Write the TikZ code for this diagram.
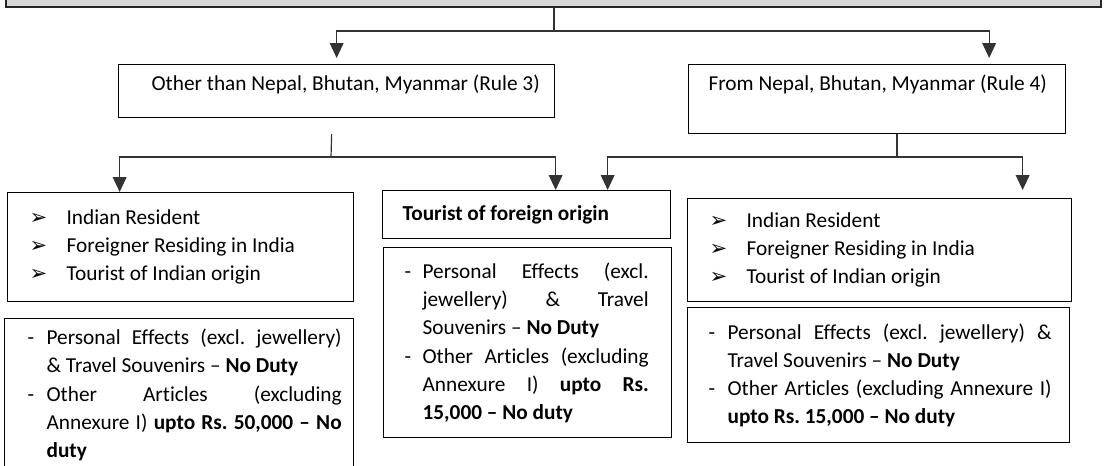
\documentclass[tikz,border=0pt]{standalone}
\usepackage{fontspec}
\setmainfont{Carlito}[Ligatures={TeX,NoCommon}]
\newfontfamily\symfont{DejaVu Sans}
\usetikzlibrary{arrows.meta}
\definecolor{headfill}{HTML}{D9D9D9}
\definecolor{linkgray}{HTML}{333333}
\newcommand{\boxfont}{\fontsize{15.15pt}{20.05pt}\selectfont\frenchspacing\hyphenpenalty=10000\tolerance=10000}
\newlength{\bulw}\setlength{\bulw}{0.925cm}
\newcommand{\pick}{\makebox[\bulw][l]{\symfont\fontsize{15pt}{15pt}\selectfont ➢}}
% dash list: #1 dash offset, #2 text offset, #3 right margin
\newenvironment{dutylist}[3]{%
  \vspace*{-0.3cm}%
  \begin{list}{-}{\setlength{\leftmargin}{#2}\setlength{\labelwidth}{\dimexpr#2-#1\relax}%
    \setlength{\labelsep}{0pt}\setlength{\rightmargin}{#3}%
    \setlength{\itemsep}{0pt}\setlength{\parsep}{0pt}\setlength{\topsep}{0pt}\setlength{\partopsep}{0pt}%
    \def\makelabel##1{##1\hfil}}}%
  {\end{list}}
\tikzset{
  headbox/.style={draw=black!85, line width=1.3pt, fill=headfill, anchor=north west, inner sep=0pt},
  rulebox/.style={draw=black, line width=0.85pt, anchor=north west, inner ysep=0pt, font=\boxfont, align=flush left},
  listbox/.style={draw=black, line width=0.85pt, anchor=north west, inner xsep=0.55cm, inner ysep=0pt, font=\boxfont, align=flush left},
  dutybox/.style={draw=black, line width=0.85pt, anchor=north west, inner sep=0pt, font=\boxfont, align=justify},
  link/.style={draw=linkgray, line width=0.85pt},
  arrow/.style={link, -{Triangle[length=0.37cm, width=0.34cm]}},
}

\begin{document}
\begin{tikzpicture}[x=0.025cm, y=-0.025cm]
\useasboundingbox (0,0) rectangle (1113,466);
\clip (0,0) rectangle (1113,466);

% head of the chart, only its lower edge shows
\node[headbox, minimum width=27.375cm, minimum height=1.15cm] (head) at (5,-40) {};

% rule 3 / rule 4
\node[rulebox, text width=10.7cm, inner xsep=0.1cm, text height=0.65cm, text depth=0.675cm] (rule3) at (118,64)
  {\hspace*{0.725cm}Other than Nepal, Bhutan, Myanmar (Rule 3)};
\node[rulebox, text width=9.225cm, inner xsep=0.1cm, text height=0.65cm, text depth=1.075cm] (rule4) at (688,64)
  {\hspace*{0.4cm}From Nepal, Bhutan, Myanmar (Rule 4)};

% who travels
\node[listbox, text width=7.55cm, minimum height=2.725cm] (resC) at (7,192)
  {\pick Indian Resident\\\pick Foreigner Residing in India\\\pick Tourist of Indian origin};
\node[rulebox, font=\boxfont\bfseries, text width=6.2cm, inner xsep=0.5cm, minimum height=1.2cm] (tourist) at (382,190)
  {Tourist of foreign origin};
\node[listbox, text width=8.5cm, minimum height=2.575cm] (resE) at (687,198)
  {\pick Indian Resident\\\pick Foreigner Residing in India\\\pick Tourist of Indian origin};

% allowances
\node[dutybox, text width=8.725cm, minimum height=3.8cm] (dutyF) at (4,318) {%
  \begin{dutylist}{0.575cm}{1.05cm}{0.3cm}
  \item Personal Effects (excl. jewellery)\linebreak \& Travel Souvenirs – \textbf{No Duty}
  \item Other Articles (excluding\linebreak Annexure I) \textbf{upto Rs. 50,000 – No}\linebreak \textbf{duty}
  \end{dutylist}};
\node[dutybox, text width=7.2cm, minimum height=4.75cm] (dutyG) at (383,247) {%
  \begin{dutylist}{0.525cm}{0.975cm}{0.575cm}
  \item Personal Effects (excl.\linebreak jewellery) \& Travel\linebreak Souvenirs – \textbf{No Duty}
  \item Other Articles (excluding\linebreak Annexure I) \textbf{upto Rs.}\linebreak \textbf{15,000 – No duty}
  \end{dutylist}};
\node[dutybox, text width=9.55cm, minimum height=3.375cm] (dutyH) at (687,307) {%
  \begin{dutylist}{0.525cm}{1.0cm}{0.45cm}
  \item Personal Effects (excl. jewellery) \&\linebreak Travel Souvenirs – \textbf{No Duty}
  \item Other Articles (excluding Annexure I)\linebreak \textbf{upto Rs. 15,000 – No duty}
  \end{dutylist}};

% connectors
\coordinate (j0) at (554,31);
\coordinate (jA) at (331,157);
\coordinate (jB) at (897,157);
\draw[link] (head.south -| j0) -- (j0);
\draw[arrow, shorten >=0.15cm] (j0) -| (rule3.north);
\draw[arrow, shorten >=0.15cm] (j0) -| ([shift={(112,0)}]rule4.north);
\draw[link] ([shift={(-5,16)}]rule3.south) -- (jA);
\draw[arrow] (jA) -| ([shift={(-61,0)}]resC.north);
\draw[arrow] (jA) -| ([shift={(29,0)}]tourist.north);
\draw[link] (rule4.south -| jB) -- (jB);
\draw[arrow] (jB) -| ([shift={(81,0)}]tourist.north);
\draw[arrow, shorten >=0.2cm] (jB) -| ([shift={(143,0)}]resE.north);
\end{tikzpicture}
\end{document}
